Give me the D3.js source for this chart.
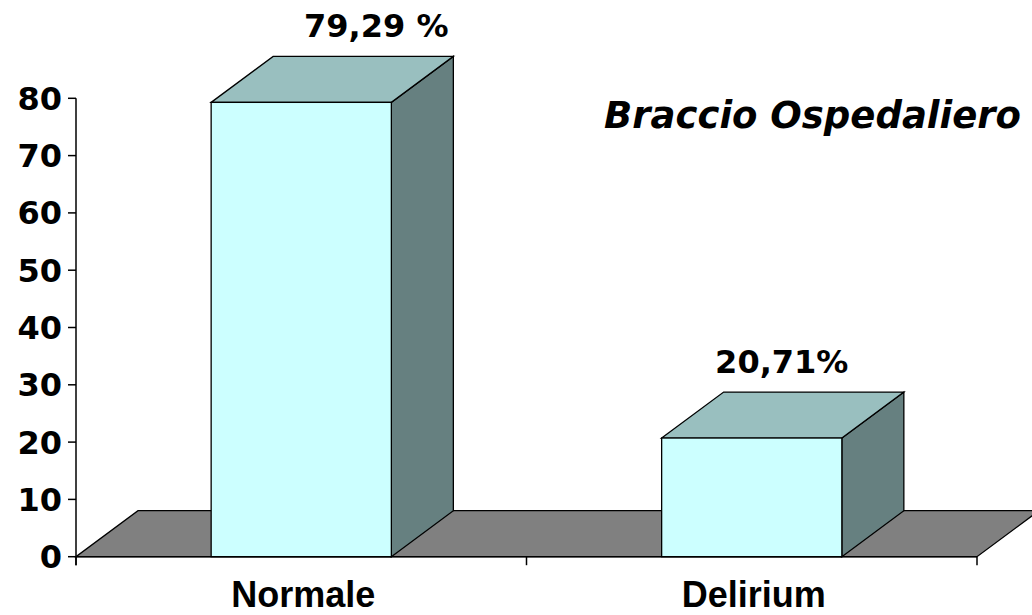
<!DOCTYPE html>
<html>
<head>
<meta charset="utf-8">
<script src="https://cdn.jsdelivr.net/npm/d3@7"></script>
<style>
  body { margin: 0; background: #fff; }
  svg { display: block; }
</style>
</head>
<body>
<svg id="chart" width="1032" height="615"></svg>
<script>
// data
var categories = ["Normale", "Delirium"];
var values = [79.29, 20.71];
var valueLabels = ["79,29 %", "20,71%"];
var yTicks = [0, 10, 20, 30, 40, 50, 60, 70, 80];
var chartTitle = "Braccio Ospedaliero";

var svg = d3.select("#chart");

var plotLeft = 76, plotRight = 977, plotBottom = 556.7, plotTop = 98.3;
var depthX = 62, depthY = -46;   // 3d depth offset

var y = d3.scaleLinear().domain([0, 80]).range([plotBottom, plotTop]);
var x = d3.scaleBand().domain(categories).range([plotLeft, plotRight])
    .paddingInner(0.6).paddingOuter(0.3);

var numFont = "'DejaVu Sans', Verdana, sans-serif";
var catFont = "'Liberation Sans', Arial, sans-serif";

// floor
svg.append("polygon")
    .attr("points", [[plotLeft, y(0)], [plotRight, y(0)], [plotRight + depthX, y(0) + depthY], [plotLeft + depthX, y(0) + depthY]].join(" "))
    .attr("fill", "#808080")
    .attr("stroke", "#000")
    .attr("stroke-width", 1.3);

// bars
var bars = svg.selectAll("g.bar").data(values).enter().append("g").attr("class", "bar");

bars.each(function(v, i) {
    var g = d3.select(this);
    var x0 = x(categories[i]), x1 = x0 + x.bandwidth();
    var yt = y(v), yb = y(0);
    // side
    g.append("polygon")
        .attr("points", [[x1, yb], [x1 + depthX, yb + depthY], [x1 + depthX, yt + depthY], [x1, yt]].join(" "))
        .attr("fill", "#668080").attr("stroke", "#000").attr("stroke-width", 1.3);
    // top
    g.append("polygon")
        .attr("points", [[x0, yt], [x0 + depthX, yt + depthY], [x1 + depthX, yt + depthY], [x1, yt]].join(" "))
        .attr("fill", "#99BFBF").attr("stroke", "#000").attr("stroke-width", 1.3);
    // front
    g.append("rect")
        .attr("x", x0).attr("y", yt)
        .attr("width", x.bandwidth()).attr("height", yb - yt)
        .attr("fill", "#CCFFFF").attr("stroke", "#000").attr("stroke-width", 1.3);
});

// value labels (placed a bit to the right of the bar top, as in the original)
var labelShift = [75, 30];
svg.selectAll("text.val").data(values).enter().append("text")
    .attr("class", "val")
    .attr("x", function(d, i) { return x(categories[i]) + x.bandwidth() / 2 + labelShift[i]; })
    .attr("y", function(d) { return y(d) + depthY - 19; })
    .attr("text-anchor", "middle")
    .attr("font-family", numFont)
    .attr("font-weight", "bold")
    .attr("font-size", "32px")
    .text(function(d, i) { return valueLabels[i]; });

// y axis
svg.append("line")
    .attr("x1", plotLeft).attr("x2", plotLeft)
    .attr("y1", y(80)).attr("y2", y(0) + 8.5)
    .attr("stroke", "#000").attr("stroke-width", 1.5);

svg.selectAll("line.ytick").data(yTicks).enter().append("line")
    .attr("class", "ytick")
    .attr("x1", plotLeft - 8).attr("x2", plotLeft)
    .attr("y1", function(d) { return y(d); }).attr("y2", function(d) { return y(d); })
    .attr("stroke", "#000").attr("stroke-width", 1.5);

svg.selectAll("text.ylab").data(yTicks).enter().append("text")
    .attr("class", "ylab")
    .attr("x", plotLeft - 14)
    .attr("y", function(d) { return y(d); })
    .attr("dy", "0.36em")
    .attr("text-anchor", "end")
    .attr("font-family", numFont)
    .attr("font-weight", "bold")
    .attr("font-size", "32px")
    .text(function(d) { return d; });

// x axis
svg.append("line")
    .attr("x1", plotLeft).attr("x2", plotRight)
    .attr("y1", y(0)).attr("y2", y(0))
    .attr("stroke", "#000").attr("stroke-width", 1.5);

var xEdges = [plotLeft, (plotLeft + plotRight) / 2, plotRight];
svg.selectAll("line.xtick").data(xEdges).enter().append("line")
    .attr("class", "xtick")
    .attr("x1", function(d) { return d; }).attr("x2", function(d) { return d; })
    .attr("y1", y(0)).attr("y2", y(0) + 8.5)
    .attr("stroke", "#000").attr("stroke-width", 1.5);

svg.selectAll("text.cat").data(categories).enter().append("text")
    .attr("class", "cat")
    .attr("x", function(d) { return x(d) + x.bandwidth() / 2 + 2; })
    .attr("y", 607)
    .attr("text-anchor", "middle")
    .attr("font-family", catFont)
    .attr("font-weight", "bold")
    .attr("font-size", "36px")
    .text(function(d) { return d; });

// title
svg.append("text")
    .attr("x", 1021)
    .attr("y", 127.5)
    .attr("text-anchor", "end")
    .attr("font-family", numFont)
    .attr("font-weight", "bold")
    .attr("font-style", "italic")
    .attr("font-size", "37px")
    .text(chartTitle);
</script>
</body>
</html>
